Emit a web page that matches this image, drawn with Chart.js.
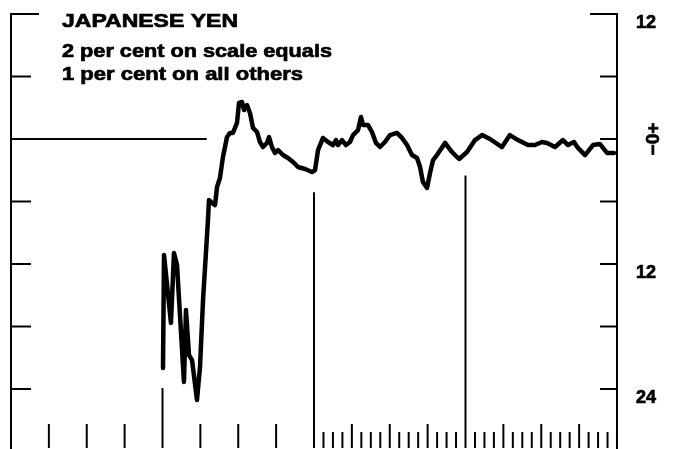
<!DOCTYPE html>
<html>
<head>
<meta charset="utf-8">
<script src="https://cdn.jsdelivr.net/npm/chart.js@4"></script>
<style>
html, body { margin: 0; padding: 0; background: #fff; }
#wrap { width: 677px; height: 449px; }
</style>
</head>
<body>
<div id="wrap"><canvas id="chart" width="677" height="449"></canvas></div>
<script>
// months counted from the left edge of the chart (4 years)
const months = [
  12.04,12.12,12.67,12.91,13.15,13.70,13.86,14.10,14.34,14.73,
  14.97,15.21,15.60,15.68,15.92,16.16,16.32,16.55,16.79,17.11,
  17.35,17.58,17.90,18.06,18.30,18.46,18.69,18.93,19.17,19.49,
  19.72,19.96,20.28,20.44,20.67,20.91,21.15,21.54,21.94,22.34,
  22.73,23.29,23.84,24.08,24.32,24.71,25.11,25.50,25.74,25.90,
  26.22,26.53,26.85,27.09,27.49,27.72,27.88,28.28,28.59,28.91,
  29.23,29.62,30.02,30.57,30.97,31.37,31.76,32.16,32.40,32.63,
  32.95,33.19,33.43,33.74,34.38,34.93,35.49,36.12,36.75,37.31,
  37.94,38.89,39.52,40.16,40.95,41.50,42.06,42.46,43.09,43.72,
  44.12,44.59,44.91,45.47,46.10,46.65,46.89,47.21,47.45,47.76
];
// yen, per cent on scale
const yenValues = [
  -21.98,-11.14,-17.66,-10.94,-12.10,-23.33,-16.42,-20.74,-21.22,-25.06,
  -21.89,-15.46,-7.78,-5.86,-6.14,-6.34,-4.61,-3.74,-1.73,0.19,
  0.58,0.58,1.54,3.46,3.55,2.78,3.26,2.50,1.06,0.67,
  -0.29,-0.77,-0.38,0.19,-0.77,-1.34,-1.06,-1.54,-1.82,-2.21,
  -2.69,-2.88,-3.17,-2.98,-1.06,0.10,-0.29,-0.58,-0.10,-0.58,
  -0.10,-0.58,-0.29,0.38,0.86,2.11,1.34,1.34,0.67,-0.38,
  -0.77,-0.29,0.38,0.58,0.10,-0.58,-1.54,-1.82,-2.69,-4.13,
  -4.70,-3.26,-2.02,-1.54,-0.38,-1.25,-1.92,-1.25,-0.10,0.38,
  0.00,-0.77,0.38,-0.10,-0.58,-0.58,-0.29,-0.38,-0.77,-0.10,
  -0.58,-0.29,-0.86,-1.54,-0.58,-0.48,-0.86,-1.34,-1.34,-1.34
];
// old parity line
const parityMonths = [0, 15.5];
const parityValues = [0, 0];

const scaleTicks = [12, 6, 0, -6, -12, -18, -24];
const scaleLabels = { 12: '12', '-12': '12', '-24': '24' };
const yearStarts = [12, 24, 36];
const yearLineTops = [-23.9, -5.1, -3.5];
const titleLines = ['JAPANESE YEN', '2 per cent on scale equals', '1 per cent on all others'];

const toPoints = (xs, ys) => xs.map((x, i) => ({ x, y: ys[i] }));

function seg(ctx, x1, y1, x2, y2) {
  ctx.beginPath(); ctx.moveTo(x1, y1); ctx.lineTo(x2, y2); ctx.stroke();
}

// bold print look: fill + thin stroke, stretched to the width seen in the scan
function fitText(ctx, text, x, base, width) {
  const w = ctx.measureText(text).width;
  ctx.save();
  ctx.translate(x, base);
  ctx.scale(width / w, 1);
  ctx.fillText(text, 0, 0);
  ctx.strokeText(text, 0, 0);
  ctx.restore();
}

const framePlugin = {
  id: 'frame',
  afterDatasetsDraw(chart) {
    const { ctx, chartArea: a, scales: { x, y } } = chart;
    ctx.save();
    ctx.strokeStyle = '#000';
    ctx.fillStyle = '#000';
    ctx.lineWidth = 2;

    // side axes
    const top = y.getPixelForValue(12);
    seg(ctx, a.left, top - 1, a.left, a.bottom);
    seg(ctx, a.right, top - 1, a.right, a.bottom);

    // scale ticks, both sides
    scaleTicks.forEach(v => {
      const py = y.getPixelForValue(v);
      const first = v === 12;
      seg(ctx, a.left, py, a.left + (first ? 28 : 20), py);
      seg(ctx, a.right - (first ? 27 : 17), py, a.right, py);
    });

    // bottom ticks
    const bottom = a.bottom - 1;
    for (let m = 3; m < 24; m += 3) {
      if (m === 12) continue;
      const px = x.getPixelForValue(m);
      seg(ctx, px, 424, px, bottom);
    }
    for (let k = 1; k < 32; k++) {
      const m = 24 + k * 0.75;
      if (m === 36) continue;
      const px = x.getPixelForValue(m);
      seg(ctx, px, k % 4 === 0 ? 424 : 432, px, bottom);
    }
    yearStarts.forEach((m, i) => {
      const px = x.getPixelForValue(m);
      seg(ctx, px, y.getPixelForValue(yearLineTops[i]), px, bottom);
    });

    // right labels
    ctx.lineWidth = 0.7;
    ctx.font = 'bold 18px "Liberation Sans", Arial, sans-serif';
    ctx.textAlign = 'center';
    ctx.textBaseline = 'middle';
    Object.keys(scaleLabels).forEach(k => {
      const py = y.getPixelForValue(+k) + 9;
      ctx.fillText(scaleLabels[k], a.right + 29, py);
      ctx.strokeText(scaleLabels[k], a.right + 29, py);
    });
    ctx.save();
    ctx.translate(a.right + 36, y.getPixelForValue(0));
    ctx.rotate(-Math.PI / 2);
    ctx.font = 'bold 19px "Liberation Sans", Arial, sans-serif';
    ctx.fillText('−0+', 0, 1);
    ctx.strokeText('−0+', 0, 1);
    ctx.restore();

    // title block
    ctx.textAlign = 'left';
    ctx.textBaseline = 'alphabetic';
    ctx.font = 'bold 19px "Liberation Sans", Arial, sans-serif';
    fitText(ctx, titleLines[0], 62, 27, 176);
    fitText(ctx, titleLines[1], 62, 57, 270);
    fitText(ctx, titleLines[2], 62, 80, 241);
    ctx.restore();
  }
};

new Chart(document.getElementById('chart'), {
  type: 'line',
  data: {
    datasets: [
      {
        data: toPoints(months, yenValues),
        borderColor: '#000',
        borderWidth: 4.5,
        pointRadius: 0,
        tension: 0,
        borderJoinStyle: 'round',
        borderCapStyle: 'round',
        clip: false
      },
      {
        data: toPoints(parityMonths, parityValues),
        borderColor: '#000',
        borderWidth: 2,
        pointRadius: 0,
        tension: 0
      }
    ]
  },
  options: {
    responsive: false,
    animation: false,
    devicePixelRatio: 1,
    layout: { padding: { left: 11, right: 60, top: 14, bottom: 0 } },
    plugins: { legend: { display: false }, tooltip: { enabled: false } },
    scales: {
      x: { type: 'linear', min: 0, max: 48, display: false },
      y: { type: 'linear', min: -29.76, max: 12, display: false }
    }
  },
  plugins: [framePlugin]
});
</script>
</body>
</html>
